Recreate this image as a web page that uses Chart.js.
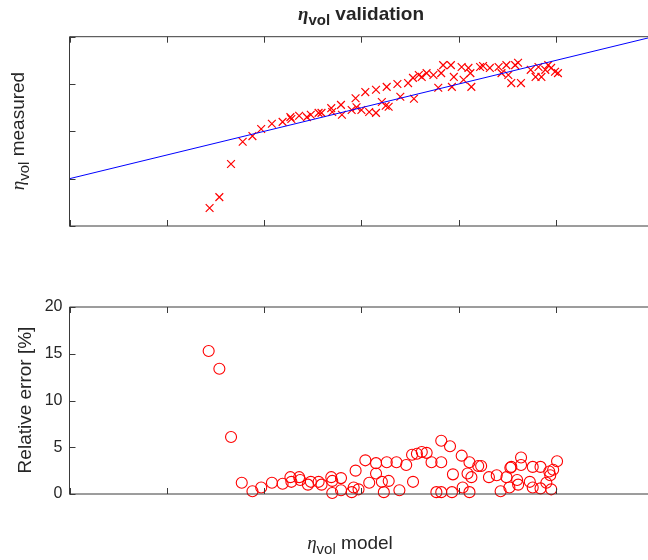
<!DOCTYPE html>
<html>
<head>
<meta charset="utf-8">
<script src="https://cdn.jsdelivr.net/npm/chart.js@4.4.1/dist/chart.umd.min.js"></script>
<style>
  html, body { margin: 0; padding: 0; background: #fff; }
  #wrap { position: relative; width: 648px; height: 560px; overflow: hidden; }
  #wrap canvas { position: absolute; left: 0; }
  #top-chart { top: 0; }
  #err-chart { top: 260px; }
</style>
</head>
<body>
<div id="wrap">
  <canvas id="top-chart" width="660" height="260"></canvas>
  <canvas id="err-chart" width="660" height="300"></canvas>
</div>
<script>
/* ── Data ─────────────────────────────────────────────── */
const modelTop = [1.44, 1.54, 1.66, 1.78, 1.88, 1.97, 2.08, 2.19, 2.27, 2.28, 2.36, 2.44, 2.48, 2.56, 2.59,
  2.69, 2.70, 2.79, 2.80, 2.90, 2.94, 2.95, 3.00, 3.04, 3.08, 3.15, 3.15, 3.21, 3.25, 3.28, 3.26, 3.37,
  3.40, 3.48, 3.54, 3.53, 3.59, 3.62, 3.67, 3.74, 3.79, 3.82, 3.84, 3.92, 3.93, 3.95, 4.03, 4.05, 4.10,
  4.12, 4.13, 4.22, 4.25, 4.32, 4.41, 4.44, 4.49, 4.51, 4.54, 4.58, 4.61, 4.64, 4.74, 4.79, 4.82, 4.85,
  4.89, 4.92, 4.95, 4.99, 5.02];
const measured = [0.38, 0.61, 1.31, 1.78, 1.90, 2.05, 2.16, 2.20, 2.30, 2.26, 2.33, 2.30, 2.35, 2.39, 2.39,
  2.49, 2.41, 2.56, 2.35, 2.45, 2.70, 2.51, 2.45, 2.83, 2.41, 2.39, 2.88, 2.62, 2.54, 2.52, 2.94, 3.00,
  2.73, 3.02, 2.69, 3.13, 3.19, 3.15, 3.23, 3.19, 2.92, 3.23, 3.40, 3.40, 2.94, 3.15, 3.36, 3.09, 3.34,
  3.23, 2.94, 3.36, 3.38, 3.34, 3.36, 3.23, 3.40, 3.19, 3.02, 3.40, 3.45, 3.02, 3.30, 3.15, 3.36, 3.15,
  3.30, 3.40, 3.34, 3.26, 3.23];

const modelErr = [1.43, 1.54, 1.66, 1.77, 1.88, 1.97, 2.08, 2.19, 2.27, 2.28, 2.36, 2.37, 2.45, 2.48, 2.56,
  2.59, 2.69, 2.70, 2.70, 2.79, 2.79, 2.90, 2.92, 2.94, 2.97, 3.04, 3.08, 3.15, 3.15, 3.21, 3.23, 3.28,
  3.26, 3.36, 3.39, 3.46, 3.53, 3.52, 3.57, 3.62, 3.67, 3.72, 3.77, 3.82, 3.93, 3.82, 3.91, 3.82, 3.94,
  4.03, 4.04, 4.11, 4.11, 4.09, 4.13, 4.20, 4.23, 4.31, 4.39, 4.43, 4.49, 4.52, 4.53, 4.54, 4.60, 4.61,
  4.64, 4.64, 4.73, 4.76, 4.76, 4.84, 4.84, 4.90, 4.94, 4.93, 4.95, 4.97, 5.01];
const relError = [15.3, 13.4, 6.1, 1.2, 0.3, 0.7, 1.2, 1.1, 1.8, 1.3, 1.8, 1.5, 1.0, 1.3, 1.3,
  1.0, 1.8, 1.4, 0.1, 1.7, 0.4, 0.2, 0.7, 2.5, 0.5, 3.6, 1.2, 3.3, 2.2, 1.3, 0.2, 1.4,
  3.4, 3.4, 0.4, 3.1, 1.3, 4.2, 4.3, 4.5, 4.4, 3.4, 0.2, 0.2, 0.2, 5.7, 5.1, 3.4, 2.1,
  4.1, 0.7, 3.4, 0.2, 2.2, 1.8, 3.0, 3.0, 1.8, 2.0, 0.3, 1.8, 0.7, 2.8, 2.9, 1.5, 1.0,
  3.1, 3.9, 1.3, 2.9, 0.7, 2.9, 0.6, 1.2, 2.0, 2.4, 0.5, 2.6, 3.5];

// reference line (model == measured)
const fitX = [0, 6];
const fitY = [1, 4];

const xTicks    = [0, 1, 2, 3, 4, 5, 6];
const topYTicks = [0, 1, 2, 3, 4];
const errYTicks = [0, 5, 10, 15, 20];

/* ── Styling helpers ──────────────────────────────────── */
const SANS  = '"Liberation Sans", Arial, Helvetica, sans-serif';
const SERIF = '"Liberation Serif", "DejaVu Serif", serif';
const AXIS  = '#262626';

const pts = (xs, ys) => xs.map((x, i) => ({ x, y: ys[i] }));

// draws a run of text pieces (main text + subscripts) as one centred label
function drawRuns(ctx, runs, x, y) {
  ctx.textAlign = 'left';
  ctx.textBaseline = 'alphabetic';
  let total = 0;
  runs.forEach(r => { ctx.font = r.font; r.w = ctx.measureText(r.text).width; total += r.w; });
  let cx = x - total / 2;
  runs.forEach(r => { ctx.font = r.font; ctx.fillText(r.text, cx, y + (r.dy || 0)); cx += r.w; });
}

const etaVol = (size, sub, bold) => [
  { text: 'η',   font: `${bold ? 'bold ' : ''}italic ${size}px ${SERIF}` },
  { text: 'vol', font: `${bold ? 'bold ' : ''}${sub}px ${SANS}`, dy: 5 }
];

// box round the plot area with inward ticks (bottom, top, left)
const frame = {
  id: 'frame',
  afterDatasetsDraw(chart, args, opts) {
    const { ctx, chartArea: a, scales: { x, y } } = chart;
    const len = 6;
    ctx.save();
    ctx.strokeStyle = '#3a3a3a';
    ctx.lineWidth = 1;
    ctx.beginPath();
    ctx.rect(a.left, a.top, a.right - a.left, a.bottom - a.top);
    xTicks.forEach(v => {
      const px = Math.round(x.getPixelForValue(v)) + 0.5;
      ctx.moveTo(px, a.bottom); ctx.lineTo(px, a.bottom - len);
      ctx.moveTo(px, a.top);    ctx.lineTo(px, a.top + len);
    });
    opts.yTicks.forEach(v => {
      const py = Math.round(y.getPixelForValue(v)) + 0.5;
      ctx.moveTo(a.left, py);  ctx.lineTo(a.left + len, py);
    });
    ctx.stroke();
    ctx.restore();
  }
};

const labels = {
  id: 'labels',
  afterDraw(chart, args, opts) {
    const ctx = chart.ctx;
    (opts.items || []).forEach(it => {
      ctx.save();
      ctx.translate(it.x, it.y);
      if (it.rotate) ctx.rotate(-Math.PI / 2);
      ctx.fillStyle = AXIS;
      drawRuns(ctx, it.runs, 0, 0);
      ctx.restore();
    });
  }
};

function baseScales(yMin, yMax, yStep, showY) {
  return {
    x: {
      type: 'linear', min: 0, max: 6,
      ticks: { display: false, stepSize: 1 },
      grid: { display: false },
      border: { display: false },
      afterFit: s => { s.height = 0; }
    },
    y: {
      type: 'linear', min: yMin, max: yMax,
      ticks: {
        display: showY, stepSize: yStep, padding: 7, color: AXIS,
        font: { family: SANS, size: 16 }
      },
      grid: { display: false, drawTicks: false },
      border: { display: false },
      afterFit: s => { s.width = 69.5; }
    }
  };
}

/* ── Top: measured vs model ───────────────────────────── */
new Chart(document.getElementById('top-chart'), {
  type: 'scatter',
  data: {
    datasets: [
      {
        type: 'line',
        data: pts(fitX, fitY),
        borderColor: '#0000ff',
        borderWidth: 1,
        pointRadius: 0,
        fill: false
      },
      {
        data: pts(modelTop, measured),
        pointStyle: 'crossRot',
        pointRadius: 5.5,
        borderColor: '#ff0000',
        backgroundColor: '#ff0000',
        borderWidth: 1.2,
        clip: false
      }
    ]
  },
  options: {
    responsive: false,
    animation: false,
    events: [],
    layout: { padding: { left: 0, right: 4.3, top: 36.7, bottom: 34 } },
    scales: baseScales(0, 4, 1, false),
    plugins: {
      legend: { display: false },
      tooltip: { enabled: false },
      frame: { yTicks: topYTicks },
      labels: {
        items: [
          { x: 361, y: 20, runs: [...etaVol(19, 15, true), { text: ' validation', font: `bold 19px ${SANS}` }] },
          { x: 24, y: 131, rotate: true, runs: [...etaVol(19, 15, false), { text: ' measured', font: `19px ${SANS}` }] }
        ]
      }
    }
  },
  plugins: [frame, labels]
});

/* ── Bottom: relative error ───────────────────────────── */
new Chart(document.getElementById('err-chart'), {
  type: 'scatter',
  data: {
    datasets: [
      {
        data: pts(modelErr, relError),
        pointStyle: 'circle',
        pointRadius: 5.5,
        borderColor: '#ff0000',
        backgroundColor: 'rgba(0,0,0,0)',
        borderWidth: 1.1,
        clip: false
      }
    ]
  },
  options: {
    responsive: false,
    animation: false,
    events: [],
    layout: { padding: { left: 0, right: 4.3, top: 47, bottom: 66 } },
    scales: baseScales(0, 20, 5, true),
    plugins: {
      legend: { display: false },
      tooltip: { enabled: false },
      frame: { yTicks: errYTicks },
      labels: {
        items: [
          { x: 31, y: 140, rotate: true, runs: [{ text: 'Relative error [%]', font: `19px ${SANS}` }] },
          { x: 350, y: 289, runs: [...etaVol(19, 15, false), { text: ' model', font: `19px ${SANS}` }] }
        ]
      }
    }
  },
  plugins: [frame, labels]
});
</script>
</body>
</html>
